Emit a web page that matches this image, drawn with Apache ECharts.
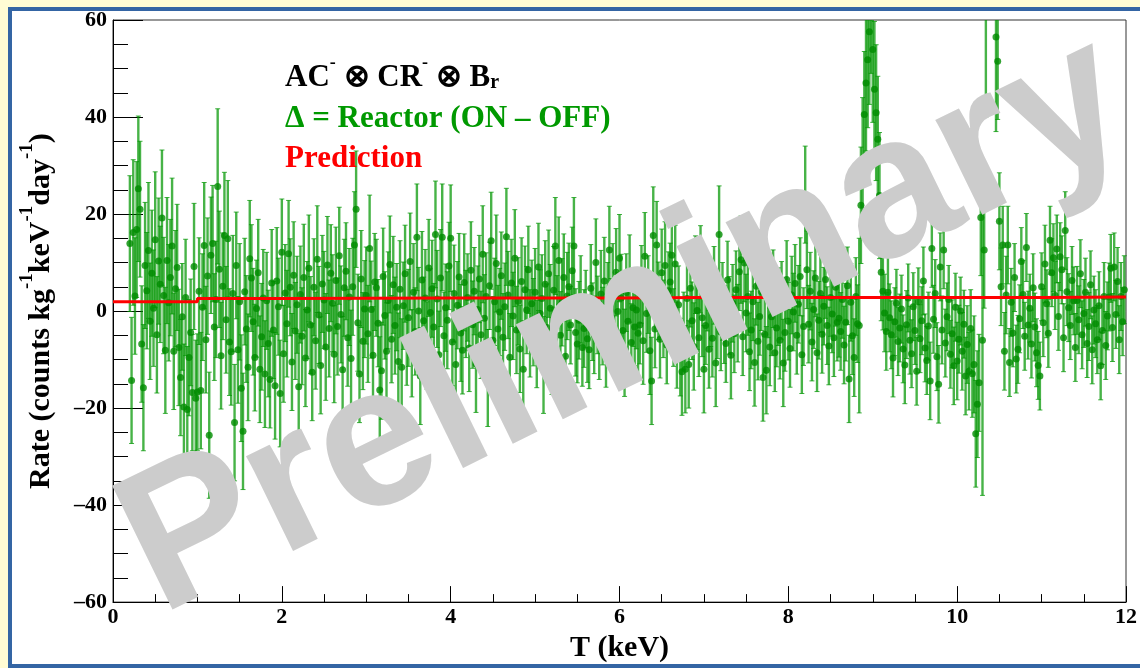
<!DOCTYPE html>
<html>
<head>
<meta charset="utf-8">
<script src="https://cdn.jsdelivr.net/npm/echarts@6.0.0/dist/echarts.min.js"></script>
<style>
  html, body { margin: 0; padding: 0; background: #fffcd4; overflow: hidden; }
  #frame { position: absolute; left: 8px; top: 7px; width: 1145px; height: 661px;
           box-sizing: border-box; border: 4px solid #3465a4; background: #fff; }
  #chart { position: absolute; left: 0; top: 0; width: 1140px; height: 668px; }
</style>
</head>
<body>
<div id="frame"></div>
<div id="chart"></div>
<script>
// histogram bins: 0.02 keV wide, first bin centre at 0.2 keV
const binLow = 0.2
const binWidth = 0.02

// Reactor ON - OFF rate (counts / kg / keV / day), one value per bin
const rate = [
  // 0.20 - 0.58
  13.9, -14.3, 16.2, 3.1, 16.8, 25.2, 21.0, -6.8, -15.8, 9.4, 4.2, 12.5, -2.1, 7.8, 0.6, 14.7, -4.9, 10.3, 5.5, 19.2,
  // 0.60 - 0.98
  3.2, -8.1, 10.4, 1.7, 6.9, 13.4, -8.3, 4.6, 9.0, -7.5, -13.7, -1.2, -19.8, 2.8, -20.3, -9.6, -4.4, -16.8, 9.2, -18.0,
  // 1.00 - 1.38
  -16.7, 4.1, -16.4, 0.8, 13.5, -5.9, 7.2, -25.6, 11.5, 13.9, -3.3, 2.4, 25.7, 8.6, -9.2, 5.1, 15.6, -1.8, 14.9, -6.4,
  // 1.40 - 1.78
  -8.4, 3.6, -23.0, 9.4, -8.0, 1.9, -15.9, -24.8, 4.0, -3.7, -11.6, 10.8, 6.8, -2.2, -9.6, 0.5, 7.9, -12.0, -5.3, 2.7,
  // 1.80 - 2.18
  -13.0, 2.1, -6.7, -14.1, 5.8, -3.9, -15.4, 6.2, 0.9, -17.0, 12.1, -8.8, 3.7, -2.6, 11.8, 4.9, -10.5, 7.4, -4.1, 1.3,
  // 2.20 - 2.58
  -15.6, 3.4, -5.2, 6.9, -9.7, 0.2, 8.8, -2.9, -12.6, 4.9, -6.1, 10.7, -0.8, -11.2, 5.6, 2.3, -7.4, 9.5, -3.6, 7.8,
  // 2.60 - 2.98
  1.6, -8.9, 6.3, -3.2, 11.4, -0.7, -12.1, 4.8, 8.2, -5.5, 2.9, -9.8, 5.0, 13.6, 21.0, -2.4, -13.0, 6.6, -6.2, 0.4,
  // 3.00 - 3.38
  3.2, -4.7, 12.9, 0.3, -9.1, 6.0, 4.8, -2.5, -16.3, -12.3, 7.1, -0.9, -8.3, 2.2, 9.6, -5.8, 5.4, -3.0, 0.8, -10.4,
  // 3.40 - 3.78
  4.5, -11.6, 1.1, 7.7, -6.3, -1.4, 10.2, -8.7, 3.9, -4.2, 15.2, 0.0, -13.4, 6.4, -2.0, 2.7, -7.1, 8.9, -0.3, 4.6,
  // 3.80 - 4.18
  -3.3, 15.8, 2.5, -9.0, 6.8, 15.2, -5.1, 0.7, -1.9, 9.3, 15.0, -6.4, 3.6, -11.0, 1.2, 7.0, -4.5, -8.1, 5.9, -0.6,
  // 4.20 - 4.58
  2.8, -7.6, 8.4, -2.8, 4.1, -10.9, 0.3, 6.6, -4.9, 11.7, -1.5, 3.0, -13.8, 5.2, 14.5, -6.0, 1.9, 9.8, -3.7, -0.2,
  // 4.60 - 4.98
  7.3, -5.4, 0.9, 15.3, 3.3, -9.5, 5.8, -1.0, 10.9, -3.9, 2.0, -7.8, 6.1, -12.0, 4.4, 0.2, 8.5, -4.6, 1.5, -2.3,
  // 5.00 - 5.38
  3.9, -6.8, 9.1, -0.5, 2.6, -11.1, 5.5, -3.4, 7.7, 0.6, -8.2, 4.3, 13.4, -1.7, 10.4, -5.0, 1.8, 6.9, -9.3, 3.1,
  // 5.40 - 5.78
  5.0, -2.9, 8.3, 13.4, -4.4, -6.8, -1.9, 2.4, -7.5, -3.6, 0.4, -5.7, -8.0, 4.7, -2.2, -4.9, 10.0, -0.8, -6.1, 3.5,
  // 5.80 - 6.18
  -3.1, 6.2, -7.7, 1.0, 12.6, -1.3, 4.9, -5.2, 8.0, -0.1, 10.9, 2.7, -4.0, -8.6, 3.8, -2.1, 6.7, -6.5, 0.7, -3.3,
  // 6.20 - 6.58
  0.2, -4.6, -2.9, 5.5, -6.1, 11.3, -0.5, 3.4, -8.2, -14.4, 15.6, -3.7, 13.6, 2.1, -5.8, 7.9, -1.6, 9.4, -7.0, 4.2,
  // 6.60 - 6.98
  6.0, 11.5, -3.4, 9.7, -6.9, 1.3, -9.5, -12.5, -4.1, -12.0, 2.6, -11.0, 4.7, -2.0, -7.3, 7.5, 0.1, -5.5, 8.6, -1.4,
  // 7.00 - 7.38
  -12.0, -3.0, 3.9, -7.9, 0.7, -5.6, 5.3, -10.7, -1.8, 15.8, -4.3, 2.0, -2.8, -6.7, 6.4, -0.9, -9.1, 1.6, -4.7, 4.4,
  // 7.40 - 7.78
  -2.5, 8.1, 10.6, -5.3, 9.9, -0.4, 3.0, -8.4, -3.9, 1.9, -10.6, 5.1, -6.2, -1.1, 4.0, -13.7, -4.8, -12.2, 2.5, -7.4,
  // 7.80 - 8.18
  -1.2, 4.6, -8.6, -3.5, 0.9, -6.0, 2.2, -10.7, -4.4, 6.5, -2.1, -7.7, 3.3, -0.2, 5.7, -5.0, 1.4, 7.1, -9.0, -3.2,
  // 8.20 - 8.58
  24.0, 8.5, -2.7, 4.1, -6.4, 0.3, 6.8, -8.6, -1.9, 3.6, -4.8, 1.0, 6.5, -3.0, -7.2, 2.8, -0.6, -5.5, 4.9, -2.3,
  // 8.60 - 8.98
  -1.5, -4.2, 2.4, -7.0, -2.3, 5.2, -14.0, 1.8, -5.1, -9.6, 3.0, -2.6, -3.0, 21.8, 31.0, 40.5, 47.0, 51.8, 57.6, 64.0,
  // 9.00 - 9.38
  53.9, 45.7, 40.9, 35.4, 23.8, 8.0, 4.1, -0.4, -4.2, 3.9, -1.4, -4.9, -9.7, -2.2, 1.6, -6.3, -3.5, 0.4, -7.8, -11.1,
  // 9.40 - 9.78
  -2.8, 2.7, -6.0, -8.8, 0.9, -4.0, -12.4, 1.9, -5.7, -2.0, 6.2, -7.6, -10.2, -3.1, -14.4, 12.9, -1.7, 3.6, -9.4, -15.1,
  // 9.80 - 10.18
  9.1, -3.9, 12.6, -6.6, -1.2, 2.4, -8.9, -4.7, -11.3, 0.8, -10.3, -5.8, 0.0, -8.3, -2.7, -13.4, -6.9, -12.4, -3.6, -12.9,
  // 10.20 - 10.58
  -11.0, -25.3, -19.2, -14.8, 19.3, -6.0, 12.6, 62.0, 95.0, 120.0, 110.0, 85.0, 78.0, 56.5, 51.5, 18.5, 5.0, 13.6, -8.3, 3.3,
  // 10.60 - 10.98
  13.6, -10.6, 1.8, -4.5, 6.9, -9.9, -7.9, -1.6, 10.2, 3.4, -5.2, 13.1, -2.9, 0.6, -6.8, 4.8, -3.3, -8.6, -11.2, -13.4,
  // 11.00 - 11.38
  5.0, -2.4, 9.7, 1.5, -4.6, 14.6, 7.9, 11.0, 3.2, 12.8, -1.1, 11.2, 8.5, -5.5, 16.6, 4.0, 0.7, -3.0, 6.3, 2.1,
  // 11.40 - 11.78
  -7.5, 2.2, -1.8, 7.7, -4.9, -0.5, 3.9, -6.7, -3.2, 5.4, -8.0, 0.2, -2.6, -5.9, 1.1, -11.3, -4.0, 3.0, -7.1, -1.0,
  // 11.80 - 11.98
  2.9, 8.8, -3.4, 9.1, -0.7, 6.1, -5.9, 3.0, -2.2, 4.4
]

// statistical error of each bin (same units)
const rateErr = [
  14, 13, 15, 12, 14, 15, 14, 12, 13, 13, 12, 14, 12, 13, 12, 14, 12, 13, 12, 14,
  12, 13, 13, 12, 12, 14, 12, 12, 13, 12, 12, 11, 13, 12, 13, 12, 11, 12, 13, 12,
  12, 11, 12, 11, 13, 11, 12, 13, 12, 12, 11, 12, 16, 12, 11, 11, 13, 11, 12, 11,
  11, 12, 12, 11, 11, 12, 11, 12, 11, 11, 11, 12, 11, 11, 11, 10, 11, 11, 11, 10,
  11, 10, 11, 10, 11, 10, 11, 11, 10, 11, 11, 10, 10, 11, 11, 10, 10, 11, 10, 10,
  11, 10, 10, 11, 10, 10, 11, 10, 10, 10, 10, 11, 10, 10, 10, 10, 11, 10, 10, 10,
  10, 10, 11, 10, 10, 10, 11, 10, 10, 10, 10, 10, 10, 11, 12, 10, 10, 10, 10, 10,
  10, 10, 11, 10, 10, 10, 10, 9, 11, 10, 10, 9, 10, 10, 10, 9, 10, 10, 9, 10,
  10, 10, 9, 10, 9, 10, 10, 9, 10, 9, 11, 9, 10, 10, 9, 10, 9, 10, 9, 10,
  9, 11, 10, 9, 10, 11, 9, 9, 10, 9, 11, 9, 10, 10, 9, 9, 10, 9, 10, 9,
  9, 9, 10, 9, 9, 10, 9, 9, 9, 10, 9, 9, 10, 9, 10, 9, 9, 10, 9, 9,
  9, 9, 9, 10, 9, 9, 9, 9, 10, 9, 9, 9, 9, 10, 9, 9, 9, 9, 9, 9,
  9, 9, 9, 9, 9, 10, 9, 9, 9, 9, 9, 9, 10, 9, 9, 9, 9, 9, 9, 9,
  9, 8, 9, 10, 9, 8, 8, 9, 8, 8, 8, 9, 8, 9, 8, 8, 9, 8, 8, 9,
  8, 9, 8, 9, 9, 8, 9, 8, 9, 8, 9, 9, 8, 9, 8, 8, 9, 8, 8, 8,
  8, 9, 8, 8, 9, 9, 8, 8, 9, 9, 10, 8, 9, 8, 8, 9, 8, 9, 8, 8,
  8, 9, 8, 8, 9, 8, 8, 9, 8, 9, 8, 9, 8, 8, 9, 8, 8, 8, 9, 8,
  9, 8, 8, 8, 8, 8, 8, 9, 8, 10, 8, 8, 8, 8, 8, 8, 9, 8, 8, 8,
  8, 8, 9, 8, 8, 8, 8, 8, 8, 8, 9, 8, 8, 8, 8, 9, 8, 9, 8, 8,
  8, 8, 8, 8, 8, 8, 8, 9, 8, 8, 8, 8, 8, 8, 8, 8, 8, 8, 8, 8,
  10, 8, 8, 8, 8, 8, 8, 8, 8, 8, 8, 8, 8, 8, 8, 8, 8, 8, 8, 8,
  8, 8, 8, 8, 8, 8, 9, 8, 8, 8, 8, 8, 18, 12, 13, 13, 14, 14, 15, 15,
  15, 14, 14, 13, 13, 10, 8, 8, 8, 8, 7, 7, 8, 7, 7, 7, 7, 7, 7, 8,
  7, 7, 7, 7, 7, 7, 7, 7, 7, 7, 7, 7, 7, 7, 8, 8, 7, 7, 7, 8,
  7, 7, 8, 7, 7, 7, 7, 7, 8, 7, 8, 7, 7, 8, 7, 8, 8, 8, 8, 9,
  10, 11, 11, 10, 12, 32, 12, 22, 25, 28, 26, 22, 17, 19.5, 12, 10, 8, 8, 8, 8,
  8, 7, 7, 7, 7, 7, 7, 7, 7, 7, 7, 7, 7, 7, 7, 7, 7, 7, 7, 7,
  7, 7, 8, 7, 7, 7, 7, 7, 7, 7, 7, 7, 7, 7, 8, 7, 7, 7, 7, 7,
  7, 7, 7, 7, 7, 7, 7, 7, 7, 7, 7, 7, 7, 7, 7, 7, 7, 7, 7, 7,
  7, 7, 7, 7, 7, 7, 7, 7, 7, 7
]

// prediction (step function, value holds until next edge)
const predEdges = [0, 1, 2, 3, 4, 5, 6, 7, 8, 9, 10, 11, 12]
const predRate = [1.9, 2.6, 2.65, 2.7, 2.7, 2.7, 2.8, 2.8, 2.8, 2.8, 2.8, 2.9, 2.9]

const yTicks = [-60, -40, -20, 0, 20, 40, 60]
const xTicks = [0, 2, 4, 6, 8, 10, 12]

const SERIF = '"Liberation Serif", "Times New Roman", serif'
const Y_MIN = yTicks[0], Y_MAX = yTicks[yTicks.length - 1]

const energy = rate.map((_, i) => Math.round((binLow + i * binWidth) * 100) / 100)
const points = rate.map((v, i) => [energy[i], v])
const errData = rate.map((v, i) => [energy[i], v, rateErr[i]])
const predLine = predEdges.map((e, i) => [e, predRate[i]])

// vertical error bar with small caps, cut at the frame
function renderErrorBar(params, api) {
  const x = api.value(0), y = api.value(1), e = api.value(2)
  const hi = y + e, lo = y - e
  if (lo > Y_MAX || hi < Y_MIN) return null
  const pHi = api.coord([x, Math.min(hi, Y_MAX)])
  const pLo = api.coord([x, Math.max(lo, Y_MIN)])
  const style = { stroke: 'rgba(0,150,0,0.72)', lineWidth: 2.4 }
  const capStyle = { stroke: 'rgba(0,150,0,0.75)', lineWidth: 1 }
  const children = [
    { type: 'line', shape: { x1: pHi[0], y1: pHi[1], x2: pLo[0], y2: pLo[1] }, style }
  ]
  const c = 2.5
  if (hi <= Y_MAX) children.push({ type: 'line', shape: { x1: pHi[0] - c, y1: pHi[1], x2: pHi[0] + c, y2: pHi[1] }, style: capStyle })
  if (lo >= Y_MIN) children.push({ type: 'line', shape: { x1: pLo[0] - c, y1: pLo[1], x2: pLo[0] + c, y2: pLo[1] }, style: capStyle })
  return { type: 'group', children }
}

const tickLabel = v => (v < 0 ? '\u2013' + Math.abs(v) : String(v))
const labelStyle = { fontFamily: SERIF, fontWeight: 'bold', fontSize: 22, color: '#000' }

const chart = echarts.init(document.getElementById('chart'), null, { renderer: 'canvas' })

const option = {
  animation: false,
  backgroundColor: 'transparent',
  grid: { left: 113, top: 20, right: 12, bottom: 62, show: true, borderColor: '#333', borderWidth: 1 },
  xAxis: {
    type: 'value',
    min: xTicks[0], max: xTicks[xTicks.length - 1], interval: 2,
    axisLine: { onZero: false, lineStyle: { color: '#000', width: 1 } },
    axisTick: { inside: true, length: 16, lineStyle: { color: '#000' } },
    minorTick: { show: true, splitNumber: 4, length: 8, lineStyle: { color: '#000' } },
    splitLine: { show: false },
    axisLabel: { ...labelStyle, margin: 4, showMinLabel: true, showMaxLabel: true, formatter: tickLabel },
    name: 'T (keV)',
    nameLocation: 'middle',
    nameGap: 29,
    nameTextStyle: { fontFamily: SERIF, fontWeight: 'bold', fontSize: 30, color: '#000' }
  },
  yAxis: {
    type: 'value',
    min: Y_MIN, max: Y_MAX, interval: 20,
    axisLine: { onZero: false, lineStyle: { color: '#000', width: 1 } },
    axisTick: { inside: true, length: 30, lineStyle: { color: '#000' } },
    minorTick: { show: true, splitNumber: 4, length: 15, lineStyle: { color: '#000' } },
    splitLine: { show: false },
    axisLabel: { ...labelStyle, margin: 6, showMinLabel: true, showMaxLabel: true, formatter: tickLabel },
    name: '{t|Rate (counts kg}{s|-1}{t|keV}{s|-1}{t|day}{s|-1}{t|)}',
    nameLocation: 'middle',
    nameGap: 57,
    nameTextStyle: {
      rich: {
        t: { fontFamily: SERIF, fontWeight: 'bold', fontSize: 30, color: '#000', lineHeight: 38, verticalAlign: 'bottom' },
        s: { fontFamily: SERIF, fontWeight: 'bold', fontSize: 19, color: '#000', lineHeight: 14, verticalAlign: 'top' }
      }
    }
  },
  series: [
    {
      type: 'custom',
      renderItem: renderErrorBar,
      data: errData,
      encode: { x: 0, y: 1 },
      silent: true,
      z: 2
    },
    {
      type: 'scatter',
      data: points,
      symbolSize: 7,
      itemStyle: { color: '#008c00' },
      silent: true,
      z: 3
    },
    {
      type: 'line',
      data: predLine,
      step: 'end',
      showSymbol: false,
      lineStyle: { color: '#ff0000', width: 3 },
      silent: true,
      z: 4
    }
  ],
  graphic: [
    {
      type: 'text', left: 285, top: 54, z: 50,
      style: {
        text: '{b|AC}{s|-}{b| \u2297 CR}{s|-}{b| \u2297 B}{r|r}',
        rich: {
          b: { fontFamily: SERIF, fontWeight: 'bold', fontSize: 31, fill: '#000', lineHeight: 39, verticalAlign: 'bottom' },
          s: { fontFamily: SERIF, fontWeight: 'bold', fontSize: 18, fill: '#000', lineHeight: 14, verticalAlign: 'top' },
          r: { fontFamily: SERIF, fontWeight: 'bold', fontSize: 20, fill: '#000', lineHeight: 8, verticalAlign: 'bottom' }
        }
      }
    },
    {
      type: 'text', left: 285, top: 103, z: 50,
      style: { text: '\u0394 = Reactor (ON \u2013 OFF)', font: 'bold 31px ' + SERIF, fill: '#009900' }
    },
    {
      type: 'text', left: 285, top: 143, z: 50,
      style: { text: 'Prediction', font: 'bold 31px ' + SERIF, fill: '#ff0000' }
    },
    {
      // watermark, drawn over the data
      type: 'text', x: 626, y: 327, rotation: 26 * Math.PI / 180, z: 100,
      style: {
        text: 'Preliminary', x: 0, y: 0,
        font: 'bold 200px "Liberation Sans", Arial, sans-serif',
        fill: '#cccccc', align: 'center', verticalAlign: 'middle'
      }
    }
  ]
}

chart.setOption(option)
</script>
</body>
</html>
